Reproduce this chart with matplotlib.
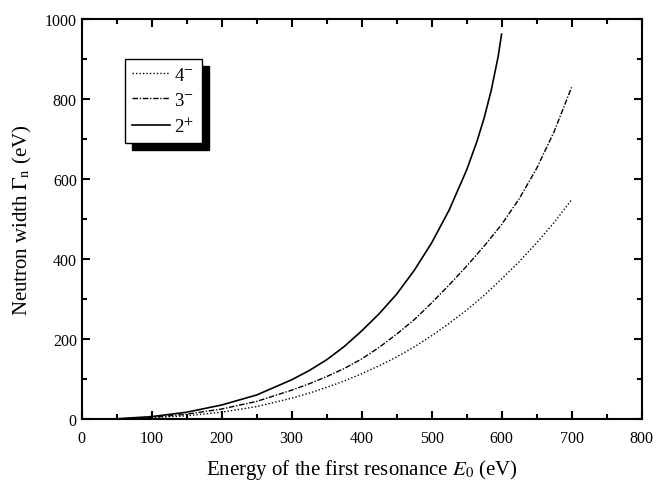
import matplotlib
matplotlib.use("Agg")
import matplotlib.pyplot as plt
from matplotlib.ticker import MultipleLocator

# ================================
# Data
# ================================
energy_2p = [50, 100, 150, 200, 250, 300, 325, 350, 375, 400, 425, 450, 475, 500, 525, 550, 565, 575, 585, 595, 600]
width_2p = [0.5, 6, 17, 35, 60, 98, 121, 148, 181, 220, 263, 312, 371, 440, 522, 622, 695, 752, 820, 905, 962]

energy_3m = [50, 100, 150, 200, 250, 300, 325, 350, 375, 400, 425, 450, 475, 500, 525, 550, 575, 600, 625, 650, 675, 700]
width_3m = [0.4, 4, 12, 25, 44, 72, 88, 106, 126, 150, 179, 212, 248, 290, 335, 382, 432, 486, 550, 626, 718, 829]

energy_4m = [50, 100, 150, 200, 250, 300, 325, 350, 375, 400, 425, 450, 475, 500, 525, 550, 575, 600, 625, 650, 675, 700]
width_4m = [0.3, 3, 8, 17, 31, 52, 64.5, 79, 95, 113, 133, 155, 180, 208, 239, 272, 309, 350, 393, 440, 491, 548]

labels = ["4$^{-}$", "3$^{-}$", "2$^{+}$"]

# ================================
# Style
# ================================
plt.rcParams["font.family"] = "Liberation Serif"
plt.rcParams["mathtext.fontset"] = "stix"

fig = plt.figure(figsize=(6.56, 4.85), dpi=100)
ax = fig.add_axes([0.1245, 0.134, 0.8535, 0.825])

ax.plot(energy_4m, width_4m, color="black", lw=1.0, linestyle=(0, (1, 1.5)), label=labels[0])
ax.plot(energy_3m, width_3m, color="black", lw=1.0, linestyle=(0, (4, 1.2, 1, 1.2)), label=labels[1])
ax.plot(energy_2p, width_2p, color="black", lw=1.2, linestyle="-", label=labels[2])

ax.set_xlim(0, 800)
ax.set_ylim(0, 1000)
ax.xaxis.set_major_locator(MultipleLocator(100))
ax.xaxis.set_minor_locator(MultipleLocator(50))
ax.yaxis.set_major_locator(MultipleLocator(200))
ax.yaxis.set_minor_locator(MultipleLocator(100))

ax.tick_params(which="both", direction="in", top=True, right=True, width=1.5, labelsize=11.5)
ax.tick_params(which="major", length=6)
ax.tick_params(which="minor", length=3.5)
ax.tick_params(axis="x", pad=8)
for s in ax.spines.values():
    s.set_linewidth(1.5)

ax.set_xlabel("Energy of the first resonance $E_0$ (eV)", fontsize=15, labelpad=8)
ax.set_ylabel("Neutron width $\\Gamma_{\\mathrm{n}}$ (eV)", fontsize=15, labelpad=8)

# Legend box with a solid drop shadow
leg = ax.legend(loc="upper left", bbox_to_anchor=(0.077, 0.9), borderaxespad=0, fontsize=13.5,
                frameon=True, fancybox=False, handlelength=2.0, handletextpad=0.25,
                labelspacing=0.42, borderpad=0.4,
                shadow={"ox": 5, "oy": -5, "facecolor": "black", "edgecolor": "black", "alpha": 1})
leg.get_frame().set_edgecolor("black")
leg.get_frame().set_linewidth(1.0)

fig.savefig("out.png", dpi=100)
